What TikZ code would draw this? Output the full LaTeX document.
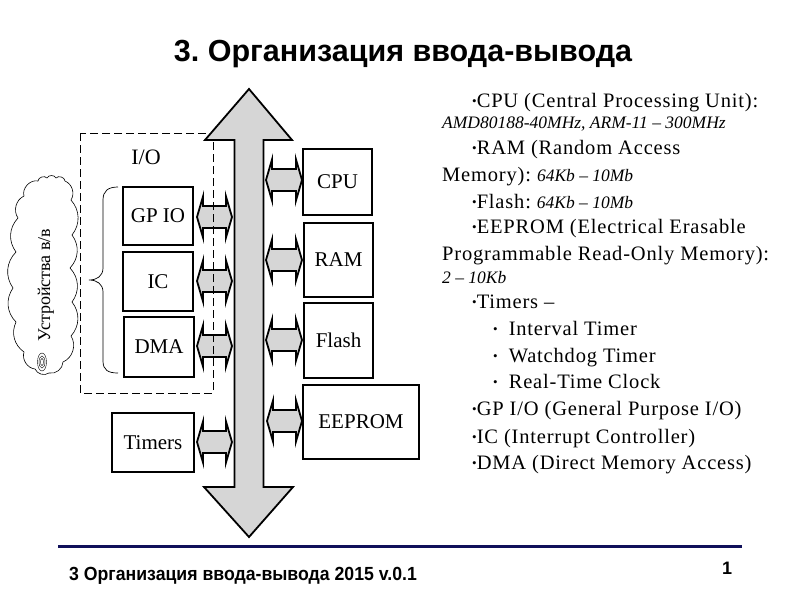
\documentclass[tikz,border=0pt]{standalone}
\usepackage{fontspec}
\setmainfont{Liberation Serif}
\newfontfamily\titlefont{Liberation Sans}
\newfontfamily\spacedserif[LetterSpace=4]{Liberation Serif}
\definecolor{busgray}{RGB}{214,214,214}
\definecolor{navy}{RGB}{16,16,90}
\newcommand\ital[1]{{\fontsize{17.5}{20}\selectfont\rmfamily\itshape #1}}
\newcommand\bul{{\fontsize{13}{15}\selectfont\rmfamily\raisebox{1.5pt}{\textbullet}}}
\newcommand\dblarr[3]{%
  \draw[line width=1.8pt, fill=busgray, line join=miter]
    (#1,#3) -- (#1+6,#3-20.5) -- (#1+6,#3-11) -- (#2-6,#3-11) -- (#2-6,#3-20.5)
    -- (#2,#3) -- (#2-6,#3+20.5) -- (#2-6,#3+11) -- (#1+6,#3+11) -- (#1+6,#3+20.5) -- cycle;}
\frenchspacing
\begin{document}
\begin{tikzpicture}[x=1pt,y=-1pt,
  blk/.style={draw, line width=2pt, inner sep=0pt, font=\fontsize{21}{24}\selectfont},
  lt/.style={anchor=base west, inner sep=0pt, font=\fontsize{20.5}{24}\spacedserif}]
\useasboundingbox (0,0) rectangle (800,600);

% title
\node[anchor=base, inner sep=0pt, font=\fontsize{30.5}{36}\titlefont\bfseries] (title) at (403,61) {3. Организация ввода-вывода};

% cloud
\draw[line width=0.6pt] (24,196) to[bend left=60] (38,181) to[bend left=70] (47,178)
  to[bend left=70] (56,178) to[bend left=70] (65,181) to[bend left=50] (71,200)
  to[bend left=40] (72,235) to[bend left=40] (70,268) to[bend left=40] (72,302)
  to[bend left=40] (71,336) to[bend left=50] (63,362) to[bend left=50] (49,373)
  to[bend left=50] (35,369) to[bend left=50] (24,352) to[bend left=40] (16,322)
  to[bend left=40] (13,288) to[bend left=40] (16,252) to[bend left=40] (18,218)
  to[bend left=50] cycle;
\node[rotate=90, inner sep=0pt, font=\fontsize{18}{20}\selectfont] (devtext) at (46,285) {Устройства в/в};
\foreach \a/\b in {1.5/3.5,3/6,4.5/9} \draw[line width=0.4pt] (42,362) ellipse ({\a pt} and {\b pt});

% brace
\draw[line width=0.7pt] (118,187) .. controls (108,187) and (103,191) .. (103,200) -- (103,268)
  .. controls (103,276) and (97,280) .. (89,280) .. controls (97,280) and (103,284) .. (103,292)
  -- (103,361) .. controls (103,370) and (108,373) .. (118,373);

% boxes
\node[blk, minimum width=70pt, minimum height=58pt] (gpio) at (158,216) {GP IO};
\node[blk, minimum width=70pt, minimum height=59pt] (ic) at (158,281.5) {IC};
\node[blk, minimum width=70pt, minimum height=60pt] (dma) at (159,347) {DMA};
\node[blk, minimum width=82pt, minimum height=59pt] (timers) at (153,442.5) {Timers};
\node[blk, minimum width=69pt, minimum height=66pt] (cpu) at (337.5,182) {CPU};
\node[blk, minimum width=69pt, minimum height=74pt] (ram) at (338.5,260) {RAM};
\node[blk, minimum width=69pt, minimum height=75pt] (flash) at (338.5,340.5) {Flash};
\node[blk, minimum width=116pt, minimum height=74pt] (eeprom) at (361,422) {EEPROM};

% small double arrows
\dblarr{197}{232}{217}
\dblarr{197}{232}{281}
\dblarr{197}{232}{346}
\dblarr{197}{232}{442}
\dblarr{266}{302}{180}
\dblarr{266}{302}{260}
\dblarr{266}{302}{340}
\dblarr{267}{302}{421}

% dashed I/O box
\draw[line width=0.7pt, dash pattern=on 8pt off 4pt] (80,133) rectangle (213,393);
\node[inner sep=0pt, font=\fontsize{22}{24}\selectfont] (io) at (146,157) {I/O};

% bus
\draw[line width=1.8pt, fill=busgray, line join=miter]
  (249,89) -- (292,140) -- (263.5,140) -- (263.5,487) -- (293,487) -- (249,537)
  -- (204,487) -- (234.5,487) -- (234.5,140) -- (205,140) -- cycle;

% right text
\node[lt] (l1) at (472,107) {\bul CPU (Central Processing Unit):};
\node[lt] (l2) at (442,128) {\ital{AMD80188-40MHz, ARM-11 – 300MHz}};
\node[lt] (l3) at (472,154) {\bul RAM (Random Access};
\node[lt] (l4) at (442,181) {Memory): \ital{64Kb – 10Mb}};
\node[lt] (l5) at (472,208) {\bul Flash: \ital{64Kb – 10Mb}};
\node[lt] (l6) at (472,233) {\bul EEPROM (Electrical Erasable};
\node[lt] (l7) at (442,260) {Programmable Read-Only Memory):};
\node[lt] (l8) at (442,283) {\ital{2 – 10Kb}};
\node[lt] (l9) at (472,308) {\bul Timers –};
\node[lt] (l10) at (493,335) {\bul\hspace{11pt}Interval Timer};
\node[lt] (l11) at (493,362) {\bul\hspace{11pt}Watchdog Timer};
\node[lt] (l12) at (493,388) {\bul\hspace{11pt}Real-Time Clock};
\node[lt] (l13) at (472,415) {\bul GP I/O (General Purpose I/O)};
\node[lt] (l14) at (472,443) {\bul IC (Interrupt Controller)};
\node[lt] (l15) at (472,469) {\bul DMA (Direct Memory Access)};

% footer
\coordinate (fl) at (58,546);
\coordinate (fr) at (742,546);
\draw[navy, line width=3pt] (fl) -- (fr);
\node[anchor=base west, inner sep=0pt, xscale=0.93, font=\fontsize{19}{22}\titlefont\bfseries] (foot) at (69,580) {3 Организация ввода-вывода 2015 v.0.1};
\node[anchor=base, inner sep=0pt, font=\fontsize{18}{20}\titlefont\bfseries] (page) at (727,574) {1};
\end{tikzpicture}
\end{document}
